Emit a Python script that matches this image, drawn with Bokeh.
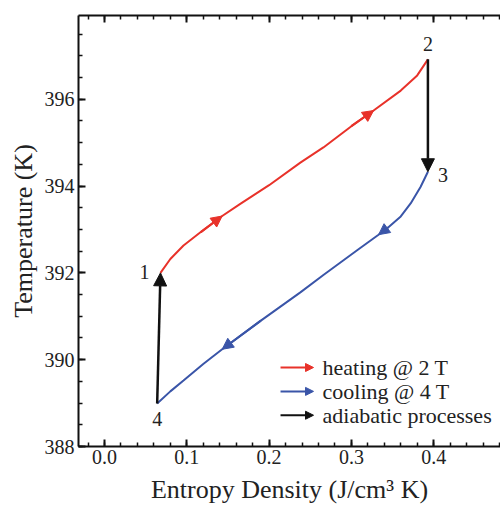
from bokeh.plotting import figure
from bokeh.models import (Range1d, LinearAxis, SingleIntervalTicker, NumeralTickFormatter,
                          Arrow, NormalHead, ColumnDataSource)
from bokeh.embed import file_html
from bokeh.resources import INLINE
from bokeh.core.properties import value

# ---- data ----
s_heat = [0.068, 0.080, 0.096, 0.117, 0.143, 0.165, 0.200, 0.238, 0.266, 0.300, 0.327, 0.360, 0.380, 0.393]
T_heat = [392.00, 392.32, 392.63, 392.94, 393.31, 393.59, 394.02, 394.54, 394.89, 395.38, 395.74, 396.20, 396.55, 396.92]
heat_heads = [4, 10]

s_cool = [0.393, 0.384, 0.372, 0.360, 0.345, 0.333, 0.307, 0.266, 0.238, 0.190, 0.143, 0.120, 0.096, 0.080, 0.064]
T_cool = [394.33, 393.98, 393.60, 393.30, 393.05, 392.88, 392.52, 391.95, 391.55, 390.90, 390.24, 389.90, 389.52, 389.27, 388.99]
cool_heads = [5, 10]

state_labels = ["1", "2", "3", "4"]
legend_labels = ["heating @ 2 T", "cooling @ 4 T", "adiabatic processes"]

FONT = "Liberation Serif"
RED = "#e8322a"
BLUE = "#3a55a8"
BLACK = "#111111"
TXT = "#222222"

p = figure(width=500, height=506, output_backend="svg", toolbar_location=None,
           x_range=Range1d(-0.0316, 0.4812), y_range=Range1d(388, 397.93),
           min_border_left=78, min_border_right=0, min_border_top=15, min_border_bottom=60,
           x_axis_label="Entropy Density (J/cm³ K)", y_axis_label="Temperature (K)")
p.grid.visible = False
p.outline_line_color = None
p.background_fill_color = "white"
p.border_fill_color = "white"

bottom = p.below[0]
left = p.left[0]
bottom.ticker = SingleIntervalTicker(interval=0.1, num_minor_ticks=5)
left.ticker = SingleIntervalTicker(interval=2, num_minor_ticks=4)
bottom.formatter = NumeralTickFormatter(format="0.0")
left.formatter = NumeralTickFormatter(format="0")

top = LinearAxis(ticker=SingleIntervalTicker(interval=0.1, num_minor_ticks=5),
                 major_label_text_font_size="1px", major_label_standoff=0,
                 major_label_text_color=None)
p.add_layout(top, "above")

for ax in (bottom, left, top):
    ax.axis_line_width = 2
    ax.axis_line_color = BLACK
    ax.major_tick_in = 7
    ax.major_tick_out = 0
    ax.minor_tick_in = 4
    ax.minor_tick_out = 0
    ax.major_tick_line_width = 2
    ax.minor_tick_line_width = 1.5
    ax.major_tick_line_color = BLACK
    ax.minor_tick_line_color = BLACK
    ax.major_label_text_font = FONT
    ax.axis_label_text_font = FONT
    ax.axis_label_text_color = TXT
    ax.axis_label_text_font_style = "normal"

for ax in (bottom, left):
    ax.major_label_text_color = TXT
    ax.major_label_text_font_size = "20px"
    ax.axis_label_text_font_size = "26px"
bottom.major_label_standoff = 3
bottom.axis_label_standoff = 8
left.major_label_standoff = 4
left.axis_label_standoff = 4

# ---- curves ----
p.line(s_heat, T_heat, line_color=RED, line_width=2)
p.line(s_cool, T_cool, line_color=BLUE, line_width=2)

for i in heat_heads:
    p.add_layout(Arrow(end=NormalHead(size=11, fill_color=RED, line_color=RED, line_width=1),
                       x_start=s_heat[i - 1], y_start=T_heat[i - 1],
                       x_end=s_heat[i], y_end=T_heat[i],
                       line_color=RED, line_width=2))
for i in cool_heads:
    p.add_layout(Arrow(end=NormalHead(size=11, fill_color=BLUE, line_color=BLUE, line_width=1),
                       x_start=s_cool[i - 1], y_start=T_cool[i - 1],
                       x_end=s_cool[i], y_end=T_cool[i],
                       line_color=BLUE, line_width=2))

# adiabatic processes: 4 -> 1 and 2 -> 3
p.add_layout(Arrow(end=NormalHead(size=13, fill_color=BLACK, line_color=BLACK, line_width=1),
                   x_start=s_cool[-1], y_start=T_cool[-1], x_end=s_heat[0], y_end=T_heat[0],
                   line_color=BLACK, line_width=2.5))
p.add_layout(Arrow(end=NormalHead(size=13, fill_color=BLACK, line_color=BLACK, line_width=1),
                   x_start=s_heat[-1], y_start=T_heat[-1], x_end=s_cool[0], y_end=T_cool[0],
                   line_color=BLACK, line_width=2.5))

# state numbers
src = ColumnDataSource(dict(
    x=[s_heat[0], s_heat[-1], s_cool[0], s_cool[-1]],
    y=[T_heat[0], T_heat[-1], T_cool[0], T_cool[-1]],
    t=state_labels,
    xo=[-11, 0, 10, 0],
    yo=[-1, -15, 3, 15],
    al=["right", "center", "left", "center"],
))
p.text(x="x", y="y", text="t", x_offset="xo", y_offset="yo", text_align="al",
       text_baseline="alphabetic", text_font=value(FONT), text_font_size="20px",
       text_color=TXT, source=src)

# ---- legend (arrows + labels) ----
leg_colors = [RED, BLUE, BLACK]
leg_x0, leg_x1, leg_tx = 0.2139, 0.254, 0.2649
leg_y = [389.82, 389.27, 388.72]
for c, y in zip(leg_colors, leg_y):
    p.add_layout(Arrow(end=NormalHead(size=8, fill_color=c, line_color=c, line_width=1),
                       x_start=leg_x0, y_start=y, x_end=leg_x1, y_end=y,
                       line_color=c, line_width=2))
p.text(x=[leg_tx] * 3, y=leg_y, text=legend_labels, text_align="left",
       text_baseline="middle", text_font=value(FONT), text_font_size="22px",
       text_color=TXT)

open("out.html", "w").write(file_html(p, INLINE))
